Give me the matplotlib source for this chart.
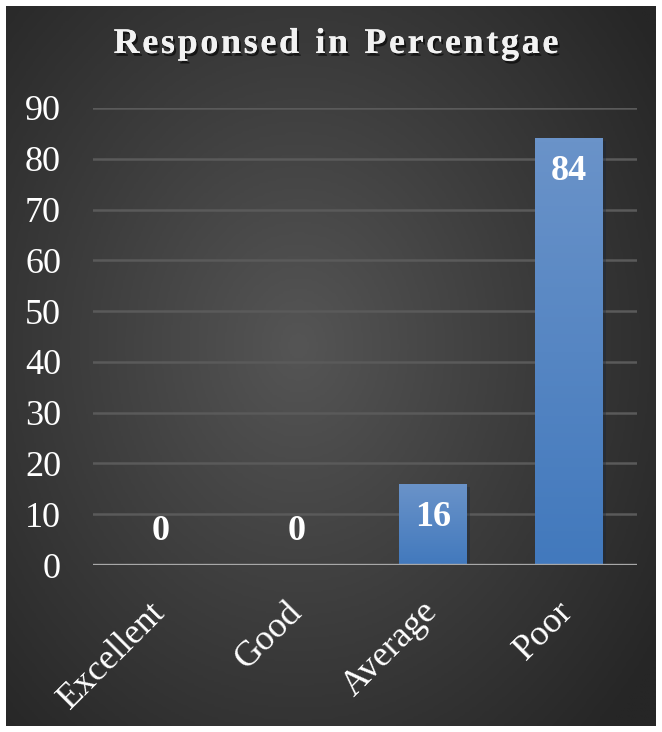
import numpy as np
import matplotlib
matplotlib.use("Agg")
import matplotlib.pyplot as plt
import matplotlib.patheffects as pe
from matplotlib.colors import LinearSegmentedColormap
from matplotlib.transforms import ScaledTranslation

categories = ["Excellent", "Good", "Average", "Poor"]
percent = [0, 0, 16, 84]
yticks = [0, 10, 20, 30, 40, 50, 60, 70, 80, 90]
title = "Responsed in Percentgae"

plt.rcParams["font.family"] = ["Liberation Serif", "DejaVu Serif"]

W, H = 662, 732
fig = plt.figure(figsize=(W / 100, H / 100), dpi=100)
fig.patch.set_facecolor("white")

# dark radial backdrop inside a thin white frame
bg = fig.add_axes([6 / W, 6 / H, 650 / W, 720 / H])
yy, xx = np.mgrid[-1:1:300j, -1:1:300j]
r = np.sqrt((xx + 0.1) ** 2 + (yy * 0.9 + 0.05) ** 2)
bg_cmap = LinearSegmentedColormap.from_list("bg", ["#555555", "#3d3d3d", "#262626"])
bg.imshow(r, cmap=bg_cmap, vmin=0, vmax=1.35, aspect="auto", extent=[0, 1, 0, 1])
bg.set_axis_off()

ax = fig.add_axes([93 / W, 1 - 565 / H, 544 / W, (565 - 108) / H])
ax.set_facecolor("none")
x = np.arange(len(categories))
bars = ax.bar(x, percent, width=0.5, color="#4f7fc0", zorder=3,
              path_effects=[pe.SimplePatchShadow(offset=(2, -2), alpha=0.35), pe.Normal()])

# vertical gradient on each bar
bar_cmap = LinearSegmentedColormap.from_list("bar", ["#4279bd", "#6a93c9"])
grad = np.linspace(0, 1, 100).reshape(-1, 1)
for b in bars:
    if b.get_height() <= 0:
        continue
    x0, w, h = b.get_x(), b.get_width(), b.get_height()
    im = ax.imshow(grad, cmap=bar_cmap, origin="lower", aspect="auto",
                   extent=[x0, x0 + w, 0, h], zorder=4)
    im.set_clip_path(b)

ax.set_xlim(-0.5, len(categories) - 0.5)
ax.set_ylim(0, 90)
ax.set_yticks(yticks)
ax.yaxis.grid(True, color="#5a5a5a", lw=1.8, zorder=1)
ax.set_axisbelow(True)
for s in ["top", "right", "left", "bottom"]:
    ax.spines[s].set_visible(False)
ax.axhline(0, color="#a8a8a8", lw=2.4, zorder=5)
ax.tick_params(axis="both", length=0, colors="white", labelsize=26)
ax.tick_params(axis="y", pad=23)
ax.tick_params(axis="x", pad=6)
ax.set_xticks(x)
ax.set_xticklabels(categories, rotation=45, ha="right", rotation_mode="anchor")
shift = ScaledTranslation(-12 / 100, -22 / 100, fig.dpi_scale_trans)
for lbl in ax.get_xticklabels():
    lbl.set_transform(lbl.get_transform() + shift)

# value labels
for xi, v in zip(x, percent):
    if v > 20:
        ty, va = v - 3.3, "top"
    elif v > 0:
        ty, va = v - 6.7, "center"
    else:
        ty, va = 6.5, "center"
    ax.text(xi, ty, str(v), ha="center", va=va, color="white",
            fontsize=26, fontweight="bold", zorder=6)

# letter-spaced title with a soft shadow
renderer = fig.canvas.get_renderer()
spacing = 2.6
tsize = 26
shadow = [pe.withSimplePatchShadow(offset=(1.5, -2), shadow_rgbFace="black", alpha=0.6), pe.Normal()]
widths = []
for ch in title:
    t = fig.text(0, 0, ch if ch != " " else "n", fontsize=tsize, fontweight="bold")
    widths.append(t.get_window_extent(renderer).width * (0.55 if ch == " " else 1.0))
    t.remove()
total = sum(widths) + spacing * (len(title) - 1)
cx = 336 - total / 2
for ch, wch in zip(title, widths):
    if ch != " ":
        fig.text(cx / W, 1 - 53 / H, ch, ha="left", va="baseline", color="#f2f2f2",
                 fontsize=tsize, fontweight="bold", path_effects=shadow)
    cx += wch + spacing

fig.savefig("out.png", dpi=100, facecolor=fig.get_facecolor())
